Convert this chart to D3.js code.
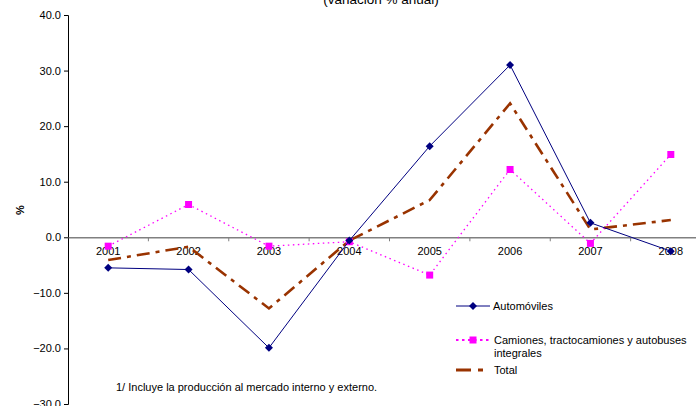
<!DOCTYPE html>
<html><head><meta charset="utf-8">
<script src="https://cdn.jsdelivr.net/npm/d3@7"></script>
<style>body{margin:0;background:#fff}svg{display:block;font-family:"Liberation Sans",Arial,sans-serif}</style>
</head><body><svg id="c" width="696" height="406"></svg>
<script>
const years = ["2001","2002","2003","2004","2005","2006","2007","2008"];
const automoviles = [-5.5, -5.8, -19.9, -0.6, 16.4, 31.0, 2.6, -2.5];
const camiones = [-1.6, 5.9, -1.6, -0.8, -6.8, 12.2, -1.1, 14.9];
const total = [-4.1, -1.7, -12.8, -0.6, 6.7, 24.1, 1.4, 3.1];
const yTicks = [40, 30, 20, 10, 0, -10, -20, -30];

const svg = d3.select("#c");
const x = d3.scaleBand().domain(years).range([68, 711]);
const y = d3.scaleLinear().domain([-30, 40]).range([404, 15]);
const cx = d => x(d) + x.bandwidth() / 2;

// subtitle (partly above the top edge)
svg.append("text").attr("x", 381).attr("y", 3.5).attr("text-anchor", "middle")
  .attr("font-size", 13.5).text("(variación  % anual)");

// y axis
const ya = svg.append("g").attr("transform", "translate(68,0)")
  .call(d3.axisLeft(y).tickValues(yTicks).tickSize(4).tickPadding(3).tickFormat(d3.format(".1f")));
ya.select(".domain").attr("stroke", "#000");
ya.selectAll(".tick line").attr("stroke", "#000");
ya.selectAll("text").attr("font-size", 11).attr("font-family", "Liberation Sans, Arial, sans-serif").attr("fill", "#000");

svg.append("text").attr("transform", "translate(24,210) rotate(-90)")
  .attr("text-anchor", "middle").attr("font-size", 11).attr("font-weight", "bold").text("%");

// x axis along zero
const xa = svg.append("g").attr("transform", `translate(0,${y(0)})`)
  .call(d3.axisBottom(x).tickSize(0).tickPadding(10));
xa.select(".domain").attr("stroke", "#808080").attr("stroke-width", 1.5);
xa.selectAll("text").attr("font-size", 11).attr("font-family", "Liberation Sans, Arial, sans-serif").attr("fill", "#000");
svg.append("g").selectAll("line").data(years.slice(1)).join("line")
  .attr("x1", d => x(d)).attr("x2", d => x(d))
  .attr("y1", y(0)).attr("y2", y(0) + 4).attr("stroke", "#808080");

const line = d3.line().x((d, i) => cx(years[i])).y(d => y(d));

// Total
svg.append("path").datum(total).attr("d", line).attr("fill", "none")
  .attr("stroke", "#993300").attr("stroke-width", 2.6).attr("stroke-dasharray", "13,6,4,6");

// Camiones
svg.append("path").datum(camiones).attr("d", line).attr("fill", "none")
  .attr("stroke", "#FF00FF").attr("stroke-width", 1.3).attr("stroke-dasharray", "1.5,3.5");
svg.append("g").selectAll("rect").data(camiones).join("rect")
  .attr("x", (d, i) => cx(years[i]) - 3.5).attr("y", d => y(d) - 3.5)
  .attr("width", 7).attr("height", 7).attr("fill", "#FF00FF");

// Automóviles
svg.append("path").datum(automoviles).attr("d", line).attr("fill", "none")
  .attr("stroke", "#000080").attr("stroke-width", 1);
const diamond = "M0,-4L4,0L0,4L-4,0Z";
svg.append("g").selectAll("path").data(automoviles).join("path")
  .attr("d", diamond).attr("transform", (d, i) => `translate(${cx(years[i])},${y(d)})`)
  .attr("fill", "#000080");

// legend
const lg = svg.append("g").attr("font-size", 11);
lg.append("line").attr("x1", 456).attr("x2", 490).attr("y1", 306).attr("y2", 306).attr("stroke", "#000080");
lg.append("path").attr("d", diamond).attr("transform", "translate(473,306)").attr("fill", "#000080");
lg.append("text").attr("x", 493).attr("y", 310).text("Automóviles");

lg.append("line").attr("x1", 456).attr("x2", 492).attr("y1", 340).attr("y2", 340)
  .attr("stroke", "#FF00FF").attr("stroke-width", 2).attr("stroke-dasharray", "2.5,3.5");
lg.append("rect").attr("x", 469.5).attr("y", 336.5).attr("width", 7).attr("height", 7).attr("fill", "#FF00FF");
lg.append("text").attr("x", 494).attr("y", 344).text("Camiones, tractocamiones y autobuses");
lg.append("text").attr("x", 494).attr("y", 357).text("integrales");

lg.append("line").attr("x1", 456).attr("x2", 490).attr("y1", 370).attr("y2", 370)
  .attr("stroke", "#993300").attr("stroke-width", 3).attr("stroke-dasharray", "15,7,5,7");
lg.append("text").attr("x", 494).attr("y", 374).text("Total");

// footnote
svg.append("text").attr("x", 116).attr("y", 391).attr("font-size", 11)
  .text("1/ Incluye la producción al mercado interno y externo.");
</script></body></html>
